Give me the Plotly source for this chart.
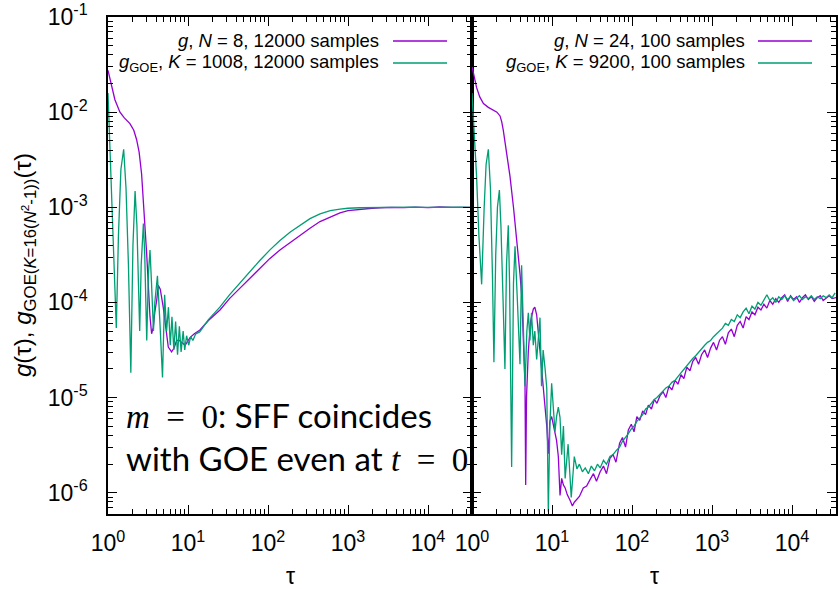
import plotly.graph_objects as go

# ---------------- data ----------------
# left panel: N = 8 / K = 1008
left_g_tau = [1.0, 1.1, 1.22, 1.41, 1.6, 1.88, 2.1, 2.28, 2.45, 2.63, 2.77, 2.9, 3.05, 3.19, 3.35,
              3.51, 3.68, 3.85, 4.06, 4.25, 4.5, 4.9, 5.3, 5.67, 6.23, 6.7, 7.2, 7.8, 8.3, 9.2,
              10.6, 12, 14.1, 18, 25.1, 33, 44.7, 60, 79.4, 105, 141, 190, 251, 335, 447, 600,
              794, 1000, 1413, 2000, 2512, 3500, 5000, 7000, 10000, 14000, 20000, 28000, 35500]
left_g_log10 = [-1.56, -1.72, -1.87, -2.0, -2.06, -2.12, -2.19, -2.29, -2.42, -2.65, -2.9, -3.21,
                -3.5, -3.87, -4.15, -4.33, -4.26, -4.1, -3.98, -3.82, -3.86, -4.05, -4.3, -4.47,
                -4.52, -4.48, -4.40, -4.40, -4.42, -4.45, -4.37, -4.33, -4.29, -4.19, -4.08,
                -3.96, -3.85, -3.74, -3.64, -3.54, -3.45, -3.37, -3.29, -3.22, -3.15, -3.10,
                -3.06, -3.035, -3.02, -3.01, -3.005, -3.0, -3.004, -2.998, -3.003, -2.997,
                -3.002, -2.999, -3.0]

left_goe_tau = [1.0, 1.08, 1.17, 1.27, 1.35, 1.45, 1.57, 1.68, 1.8, 1.93, 2.05, 2.18, 2.3, 2.4,
                2.49, 2.6, 2.77, 2.88, 2.95, 3.05, 3.2, 3.35, 3.5, 3.7, 3.85, 4.15, 4.45, 4.8,
                5.1, 5.4, 5.7, 6.0, 6.3, 6.65, 7.0, 7.4, 7.8, 8.2, 8.7, 9.1, 9.6, 10.2, 10.8,
                11.5, 12.5, 14, 18, 25, 33, 45, 60, 79, 105, 141, 190, 251, 335, 447, 600, 794,
                1000, 1413, 2000, 3000, 4500, 6500, 9000, 13000, 19000, 26000, 35500]
left_goe_log10 = [-1.8, -2.6, -3.5, -4.27, -3.3, -2.6, -2.39, -2.8, -3.6, -4.74, -3.4, -2.83,
                  -3.2, -3.8, -4.3, -3.6, -3.17, -3.5, -4.1, -4.4, -3.7, -3.45, -3.8, -4.3,
                  -4.0, -3.72, -4.2, -4.79, -3.92, -4.3, -4.05, -4.45, -4.15, -4.5, -4.2,
                  -4.55, -4.25, -4.52, -4.3, -4.5, -4.35, -4.45, -4.36, -4.4, -4.33, -4.31,
                  -4.18, -4.05, -3.92, -3.79, -3.67, -3.56, -3.45, -3.35, -3.26, -3.19, -3.12,
                  -3.07, -3.035, -3.02, -3.01, -3.005, -3.002, -2.999, -3.003, -2.998, -3.002,
                  -2.999, -3.001, -2.998, -3.0]

# right panel: N = 24 / K = 9200
right_g_tau = [1.0, 1.07, 1.14, 1.25, 1.39, 1.6, 1.85, 2.05, 2.24, 2.35, 2.46, 2.7, 2.98, 3.3,
               3.62, 3.98, 4.2, 4.38, 4.5, 4.6, 4.69, 4.8, 5.06, 5.4, 5.84, 6.1, 6.43, 6.75,
               7.08, 7.6, 8.2, 8.6, 9.0, 9.4, 9.9, 10.4, 10.9, 11.4, 12.0, 12.6, 13.2, 13.9,
               14.6, 15.5, 16.8, 18.0, 19.0, 20.3, 22, 24.6, 27.1, 30, 33, 36, 40, 44, 48, 53,
               58, 63, 70, 76, 83, 90, 98, 106, 115, 125, 136, 148, 160, 175, 190, 205, 224,
               245, 265, 290, 315, 345, 375, 410, 445, 485, 530, 575, 625, 680, 740, 810, 880,
               960, 1045, 1140, 1240, 1350, 1470, 1600, 1745, 1900, 2070, 2250, 2450, 2670,
               2900, 3160, 3440, 3750, 4090, 4450, 4850, 5280, 5750, 6270, 6830, 7440, 8100,
               8820, 9600, 10460, 11400, 12400, 13500, 14700, 16000, 17450, 19000, 20700,
               22550, 24550, 26750, 29150, 31750, 34600, 35500]
right_g_log10 = [-1.52, -1.63, -1.74, -1.84, -1.91, -1.95, -1.98, -2.0, -2.04, -2.1, -2.19,
                 -2.42, -2.67, -3.0, -3.33, -3.70, -3.95, -4.33, -4.6, -4.88, -5.92, -5.0,
                 -4.51, -4.2, -4.07, -4.05, -4.13, -4.3, -4.51, -4.8, -5.07, -5.3, -5.59,
                 -5.25, -5.2, -5.3, -5.36, -5.45, -5.62, -6.03, -5.85, -5.92, -5.95, -6.02,
                 -6.08, -6.14, -6.10, -6.07, -6.04, -5.95, -5.93, -5.86, -5.80, -5.88, -5.78,
                 -5.72, -5.80, -5.64, -5.60, -5.68, -5.48, -5.42, -5.52, -5.34, -5.28, -5.36,
                 -5.20, -5.24, -5.14, -5.18, -5.08, -5.12, -5.02, -5.06, -4.98, -4.94, -5.00,
                 -4.88, -4.92, -4.82, -4.86, -4.76, -4.80, -4.68, -4.72, -4.62, -4.58, -4.65,
                 -4.55, -4.50, -4.58, -4.48, -4.42, -4.50, -4.40, -4.36, -4.44, -4.32, -4.28,
                 -4.36, -4.24, -4.20, -4.27, -4.15, -4.18, -4.10, -4.13, -4.05, -4.08, -4.02,
                 -4.06, -3.98, -4.02, -3.96, -4.00, -3.95, -3.92, -3.99, -3.93, -3.97, -3.94,
                 -4.00, -3.95, -3.92, -3.97, -3.94, -3.99, -3.95, -3.93, -3.98, -3.95, -3.93,
                 -3.96, -3.95, -3.95]

right_goe_tau = [1.0, 1.07, 1.14, 1.22, 1.32, 1.42, 1.5, 1.6, 1.7, 1.8, 1.88, 1.98, 2.08, 2.2,
                 2.3, 2.45, 2.58, 2.7, 2.84, 2.95, 3.13, 3.3, 3.45, 3.7, 3.98, 4.17, 4.38, 4.6,
                 4.85, 5.06, 5.3, 5.55, 5.84, 6.1, 6.43, 6.75, 7.08, 7.4, 7.75, 8.2, 8.6, 9.0,
                 9.4, 9.9, 10.4, 10.9, 11.4, 12.0, 12.6, 13.2, 13.9, 14.6, 15.9, 17.4, 19,
                 20.5, 22, 24, 26, 28.5, 31, 34, 37, 40, 44, 48, 53, 58, 63, 70, 76, 83, 90, 98,
                 106, 115, 125, 136, 148, 160, 175, 190, 205, 224, 245, 265, 290, 315, 345, 375,
                 410, 445, 485, 530, 575, 625, 680, 740, 810, 880, 960, 1045, 1140, 1240, 1350,
                 1470, 1600, 1745, 1900, 2070, 2250, 2450, 2670, 2900, 3160, 3440, 3750, 4090,
                 4450, 4850, 5280, 5750, 6270, 6830, 7440, 8100, 8820, 9600, 10460, 11400,
                 12400, 13500, 14700, 16000, 17450, 19000, 20700, 22550, 24550, 26750, 29150,
                 31750, 34600, 35500]
right_goe_log10 = [-1.80, -2.2, -2.67, -3.3, -3.81, -3.0, -2.55, -2.39, -2.8, -3.7, -4.63,
                   -3.5, -3.0, -2.82, -3.2, -4.0, -4.7, -3.6, -3.19, -3.8, -5.73, -3.8, -3.41,
                   -4.0, -4.65, -3.61, -4.2, -4.88, -4.3, -4.11, -4.4, -4.11, -4.45, -4.3,
                   -4.6, -4.35, -4.16, -4.88, -4.5, -4.7, -4.9, -6.2, -5.3, -4.85, -5.1, -5.36,
                   -5.2, -5.1, -5.21, -5.6, -5.3, -5.85, -5.49, -6.05, -5.62, -5.75, -5.70,
                   -5.78, -5.74, -5.80, -5.72, -5.77, -5.70, -5.74, -5.66, -5.70, -5.62, -5.60,
                   -5.56, -5.52, -5.46, -5.42, -5.38, -5.33, -5.30, -5.25, -5.21, -5.18, -5.12,
                   -5.10, -5.06, -5.02, -5.00, -4.96, -4.93, -4.90, -4.88, -4.84, -4.82, -4.78,
                   -4.74, -4.70, -4.66, -4.62, -4.59, -4.56, -4.52, -4.48, -4.45, -4.42, -4.40,
                   -4.36, -4.33, -4.30, -4.27, -4.22, -4.24, -4.18, -4.20, -4.13, -4.16, -4.10,
                   -4.06, -4.12, -4.04, -4.07, -4.00, -4.03, -3.98, -3.92, -3.98, -3.95, -4.00,
                   -3.94, -3.97, -3.93, -3.97, -3.94, -3.98, -3.95, -3.93, -3.97, -3.94, -3.96,
                   -3.93, -3.97, -3.94, -3.96, -3.93, -3.95, -3.92, -3.95, -3.90]

x_tick_vals = [1, 10, 100, 1000, 10000]
x_tick_text = ["10<sup>0</sup>", "10<sup>1</sup>", "10<sup>2</sup>", "10<sup>3</sup>", "10<sup>4</sup>"]
y_tick_vals = [1e-6, 1e-5, 1e-4, 1e-3, 1e-2, 1e-1]
y_tick_text = ["10<sup>-6</sup>", "10<sup>-5</sup>", "10<sup>-4</sup>", "10<sup>-3</sup>",
               "10<sup>-2</sup>", "10<sup>-1</sup>"]

legend_left = ["<i>g</i>, <i>N</i> = 8, 12000 samples",
               "<i>g</i><sub>GOE</sub>, <i>K</i> = 1008, 12000 samples"]
legend_right = ["<i>g</i>, <i>N</i> = 24, 100 samples",
                "<i>g</i><sub>GOE</sub>, <i>K</i> = 9200, 100 samples"]
x_title = "τ"
y_title = "<i>g</i>(τ), <i>g</i><sub>GOE(<i>K</i>=16(<i>N</i><sup>2</sup>-1))</sub>(τ)"
note_lines = ["<span style=\"font-family:'Liberation Serif'\"><i>m</i>&nbsp;&nbsp;=&nbsp;&nbsp;0</span>: SFF coincides",
              "with GOE even at <span style=\"font-family:'Liberation Serif'\"><i>t</i>&nbsp;&nbsp;=&nbsp;&nbsp;0</span>"]

PURPLE = "#9400D3"
GREEN = "#009E73"

W, H = 839, 589
def px(x):
    return x / W
def py(y):
    return 1 - y / H

def to_g(vals):
    return [10 ** v for v in vals]

fig = go.Figure()
fig.add_trace(go.Scatter(x=left_g_tau, y=to_g(left_g_log10), mode="lines",
                         line=dict(color=PURPLE, width=1.3), xaxis="x", yaxis="y"))
fig.add_trace(go.Scatter(x=left_goe_tau, y=to_g(left_goe_log10), mode="lines",
                         line=dict(color=GREEN, width=1.3), xaxis="x", yaxis="y"))
fig.add_trace(go.Scatter(x=right_g_tau, y=to_g(right_g_log10), mode="lines",
                         line=dict(color=PURPLE, width=1.3), xaxis="x2", yaxis="y2"))
fig.add_trace(go.Scatter(x=right_goe_tau, y=to_g(right_goe_log10), mode="lines",
                         line=dict(color=GREEN, width=1.3), xaxis="x2", yaxis="y2"))

SANS = "Liberation Sans, Arial, sans-serif"
tickfont = dict(family=SANS, size=23, color="black")
common_x = dict(type="log", range=[0, 4.55], showline=True, linecolor="black", linewidth=1.5,
                mirror="allticks", ticks="inside", ticklen=9, tickwidth=1, tickcolor="black",
                tickvals=x_tick_vals, ticktext=x_tick_text, tickfont=tickfont,
                showgrid=False, zeroline=False, ticklabelstandoff=8, automargin=False,
                minor=dict(ticks="inside", ticklen=5, tickcolor="black", dtick="D1",
                           showgrid=False))
common_y = dict(type="log", range=[-6.224, -1], showline=True, linecolor="black", linewidth=1.5,
                mirror="allticks", ticks="inside", ticklen=9, tickwidth=1, tickcolor="black",
                tickvals=y_tick_vals, ticktext=y_tick_text, tickfont=tickfont,
                showgrid=False, zeroline=False, domain=[py(514), py(17)], automargin=False,
                minor=dict(ticks="inside", ticklen=5, tickcolor="black", dtick="D1",
                           showgrid=False))

fig.update_layout(
    width=W, height=H, margin=dict(l=0, r=0, t=0, b=0, autoexpand=False),
    paper_bgcolor="white", plot_bgcolor="white", showlegend=False,
    xaxis=dict(common_x, domain=[px(108), px(472)], anchor="y"),
    yaxis=dict(common_y, anchor="x", ticklabelstandoff=14),
    xaxis2=dict(common_x, domain=[px(472), px(836)], anchor="y2"),
    yaxis2=dict(common_y, anchor="x2", showticklabels=False),
)

ann = []
leg_font = dict(family=SANS, size=18.5, color="black")
for texts, xr, lx0, lx1 in [(legend_left, 381, 393, 447), (legend_right, 747, 758, 812)]:
    for i, t in enumerate(texts):
        yy = 41 + 22 * i
        ann.append(dict(text=t, x=px(xr), y=py(yy), xref="paper", yref="paper",
                        xanchor="right", yanchor="middle", showarrow=False, font=leg_font))
        fig.add_shape(type="line", xref="paper", yref="paper", x0=px(lx0), x1=px(lx1),
                      y0=py(yy), y1=py(yy), line=dict(color=[PURPLE, GREEN][i], width=1.3))

ann.append(dict(text=y_title, x=px(24), y=py(265), xref="paper", yref="paper", textangle=-90,
                xanchor="center", yanchor="middle", showarrow=False,
                font=dict(family=SANS, size=24, color="black")))
for xc in (290, 654):
    ann.append(dict(text=x_title, x=px(xc), y=py(576), xref="paper", yref="paper",
                    xanchor="center", yanchor="middle", showarrow=False,
                    font=dict(family=SANS, size=23, color="black")))

big = dict(family="Lato, Open Sans, sans-serif", size=33, color="black")
for i, t in enumerate(note_lines):
    ann.append(dict(text=t, x=px(124), y=py(415 + 43 * i), xref="paper", yref="paper",
                    xanchor="left", yanchor="middle", showarrow=False, font=big))
fig.update_layout(annotations=ann)

fig.write_html("out.html")
